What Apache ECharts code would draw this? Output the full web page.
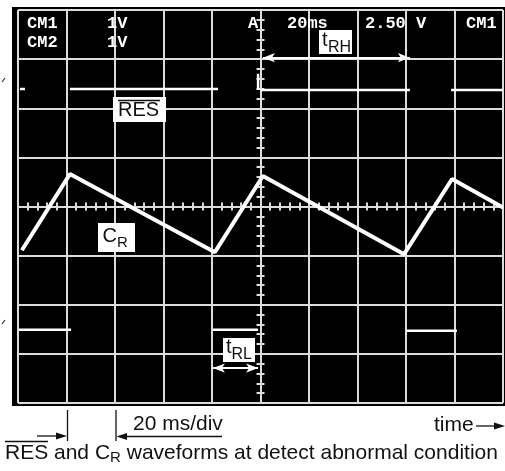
<!DOCTYPE html>
<html><head><meta charset="utf-8">
<script src="https://cdn.jsdelivr.net/npm/echarts@6/dist/echarts.min.js"></script>
<style>html,body{margin:0;padding:0;background:#fff}#c{width:505px;height:471px}</style>
</head><body><div id="c"></div>
<script>
// Time in ms relative to the trigger (screen centre), 20 ms/div; voltage in V (1 V/div)
const crTime = [-98.4, -78.6, -18.8, 1.0, 59.2, 79.0, 100];
const crVolt = [-0.89, 0.66, -0.93, 0.62, -0.97, 0.56, -0.02];

const resHighStart = [-99.2, -78.6, 0.0, 78.6];
const resHighEnd   = [-97.1, -17.5, 61.6, 100];
const resHighLevel = [2.39, 2.39, 2.37, 2.37];

const resLowStart = [-99.6, -19.6, 60.0];
const resLowEnd   = [-78.1, -1.0, 81.0];
const resLowLevel = [-2.51, -2.51, -2.53];

const edgeTime = [-1.0, -1.0];
const edgeVolt = [2.70, 2.37];

const tRHSpan = [1.0, 61.6];  const tRHLevel = 3.03;
const tRLSpan = [-19.6, -1.0]; const tRLLevel = -3.29;

const headerLeft = ['CM1', 'CM2'];
const headerVolt = ['1V', '1V'];
const headerRight = ['A', '20ms', '2.50 V', 'CM1'];

function segments(starts, ends, levels) {
  const out = [];
  starts.forEach((s, i) => {
    out.push([s, levels[i]], [ends[i], levels[i]], [null, null]);
  });
  return out;
}
const resData = segments(resHighStart, resHighEnd, resHighLevel)
  .concat(segments(resLowStart, resLowEnd, resLowLevel))
  .concat([[edgeTime[0], edgeVolt[0]], [edgeTime[1], edgeVolt[1]]]);
const crData = crTime.map((t, i) => [t, crVolt[i]]);

const GRID = '#dcdcdc';
const tickCommon = {show: true, inside: true, length: 4, lineStyle: {color: GRID, width: 2}};
const minorCommon = {show: true, splitNumber: 5, length: 4, lineStyle: {color: GRID, width: 2}};
function xAx(pos, split) {
  return {type: 'value', min: -100, max: 100, interval: 20, position: pos,
    axisLine: {show: true, onZero: true, lineStyle: {color: GRID, width: 2}},
    axisTick: tickCommon, minorTick: minorCommon, axisLabel: {show: false},
    splitLine: {show: split, lineStyle: {color: GRID, width: 2}}};
}
function yAx(pos, split) {
  return {type: 'value', min: -4, max: 4, interval: 1, position: pos,
    axisLine: {show: true, onZero: true, lineStyle: {color: GRID, width: 2}},
    axisTick: tickCommon, minorTick: minorCommon, axisLabel: {show: false},
    splitLine: {show: split, lineStyle: {color: GRID, width: 2}}};
}

const mono = 'bold 17px "Liberation Mono", monospace';
const sans = '"Liberation Sans", Arial, sans-serif';
const g = [];
g.push({type: 'rect', z: -10, shape: {x: 12, y: 7, width: 493, height: 399}, style: {fill: '#000'}});
// header texts
headerLeft.forEach((t, i) => {
  g.push({type: 'text', z: 10, x: 27, y: 24 + i * 19, style: {text: t, font: mono, fill: '#fff', align: 'left', verticalAlign: 'middle'}});
  g.push({type: 'text', z: 10, x: 107, y: 24 + i * 19, style: {text: headerVolt[i], font: mono, fill: '#fff', align: 'left', verticalAlign: 'middle'}});
});
const hx = [248, 287, 365, 466];
headerRight.forEach((t, i) => {
  g.push({type: 'text', z: 10, x: hx[i], y: 24, style: {text: t, font: mono, fill: '#fff', align: 'left', verticalAlign: 'middle'}});
});
// label boxes
function box(x, y, w, h) { g.push({type: 'rect', z: 10, shape: {x, y, width: w, height: h}, style: {fill: '#fff'}}); }
function txt(x, y, text, size, fill) {
  g.push({type: 'text', z: 11, x, y, style: {text, font: size + 'px ' + sans, fill: fill || '#111', align: 'left', verticalAlign: 'middle'}});
}
function hline(x1, x2, y, w, col) {
  g.push({type: 'line', z: 11, shape: {x1, y1: y, x2, y2: y}, style: {stroke: col || '#111', lineWidth: w || 1.5}});
}
function vline(x, y1, y2) {
  g.push({type: 'line', z: 11, shape: {x1: x, y1, x2: x, y2}, style: {stroke: '#111', lineWidth: 1.3}});
}
function tri(pts) { g.push({type: 'polygon', z: 11, shape: {points: pts}, style: {fill: '#111'}}); }

box(113, 97, 53, 25); txt(118, 110, 'RES', 20); hline(118, 160, 100.5, 1.5);
box(98, 223, 37, 29); txt(102.5, 236, 'C', 20); txt(117, 242.5, 'R', 15);
box(319, 30, 33, 24); txt(322, 40, 't', 20); txt(328, 47.5, 'RH', 16);
box(223, 338, 32, 24); txt(226, 347.5, 't', 20); txt(231.5, 355, 'RL', 16);

// scale ruler below
vline(67.5, 410, 441); vline(116, 410, 441);
hline(37, 60, 436, 1.3); tri([[67, 436], [56, 432.5], [56, 439.5]]);
hline(124, 222, 436.5, 1.3); tri([[116.5, 436.5], [127, 433], [127, 440]]);
txt(133, 424.5, '20 ms/div', 21);
txt(434, 425, 'time', 21);
hline(476, 496, 426, 1.3); tri([[505, 426], [494, 422.5], [494, 429.5]]);
// caption
g.push({type: 'text', z: 11, x: 5, y: 453, style: {
  text: '{n|RES and C}{s|R}{n| waveforms at detect abnormal condition}',
  align: 'left', verticalAlign: 'middle', fill: '#111',
  rich: {n: {font: '21px ' + sans, fill: '#111', lineHeight: 24},
         s: {font: '15px ' + sans, fill: '#111', lineHeight: 14, verticalAlign: 'bottom'}}}});
hline(5, 48, 441.5, 1.5);
// small channel markers left of screen
g.push({type: 'line', z: 11, shape: {x1: 2, y1: 82, x2: 5, y2: 78}, style: {stroke: '#333', lineWidth: 1.2}});
g.push({type: 'line', z: 11, shape: {x1: 2, y1: 324, x2: 5, y2: 320}, style: {stroke: '#333', lineWidth: 1.2}});

const chart = echarts.init(document.getElementById('c'), null, {renderer: 'canvas'});
chart.setOption({
  animation: false,
  backgroundColor: 'transparent',
  grid: {left: 18, top: 10, width: 485, height: 393, show: false},
  xAxis: [xAx('bottom', true), xAx('top', false)],
  yAxis: [yAx('left', true), yAx('right', false)],
  series: [
    {type: 'line', name: 'RES', data: resData, symbol: 'none', connectNulls: false, z: 5,
     lineStyle: {color: '#fff', width: 2.5}},
    {type: 'line', name: 'CR', data: crData, symbol: 'none', z: 5,
     lineStyle: {color: '#fff', width: 4}},
    {type: 'line', name: 'arrows', data: [], z: 6,
     markLine: {silent: true, symbol: ['arrow', 'arrow'], symbolSize: [7, 12],
       label: {show: false}, lineStyle: {color: '#fff', width: 2, type: 'solid'},
       data: [
         [{coord: [tRHSpan[0], tRHLevel]}, {coord: [tRHSpan[1], tRHLevel]}],
         [{coord: [tRLSpan[0], tRLLevel]}, {coord: [tRLSpan[1], tRLLevel]}]
       ]}}
  ],
  graphic: {elements: g}
});
</script>
</body></html>
